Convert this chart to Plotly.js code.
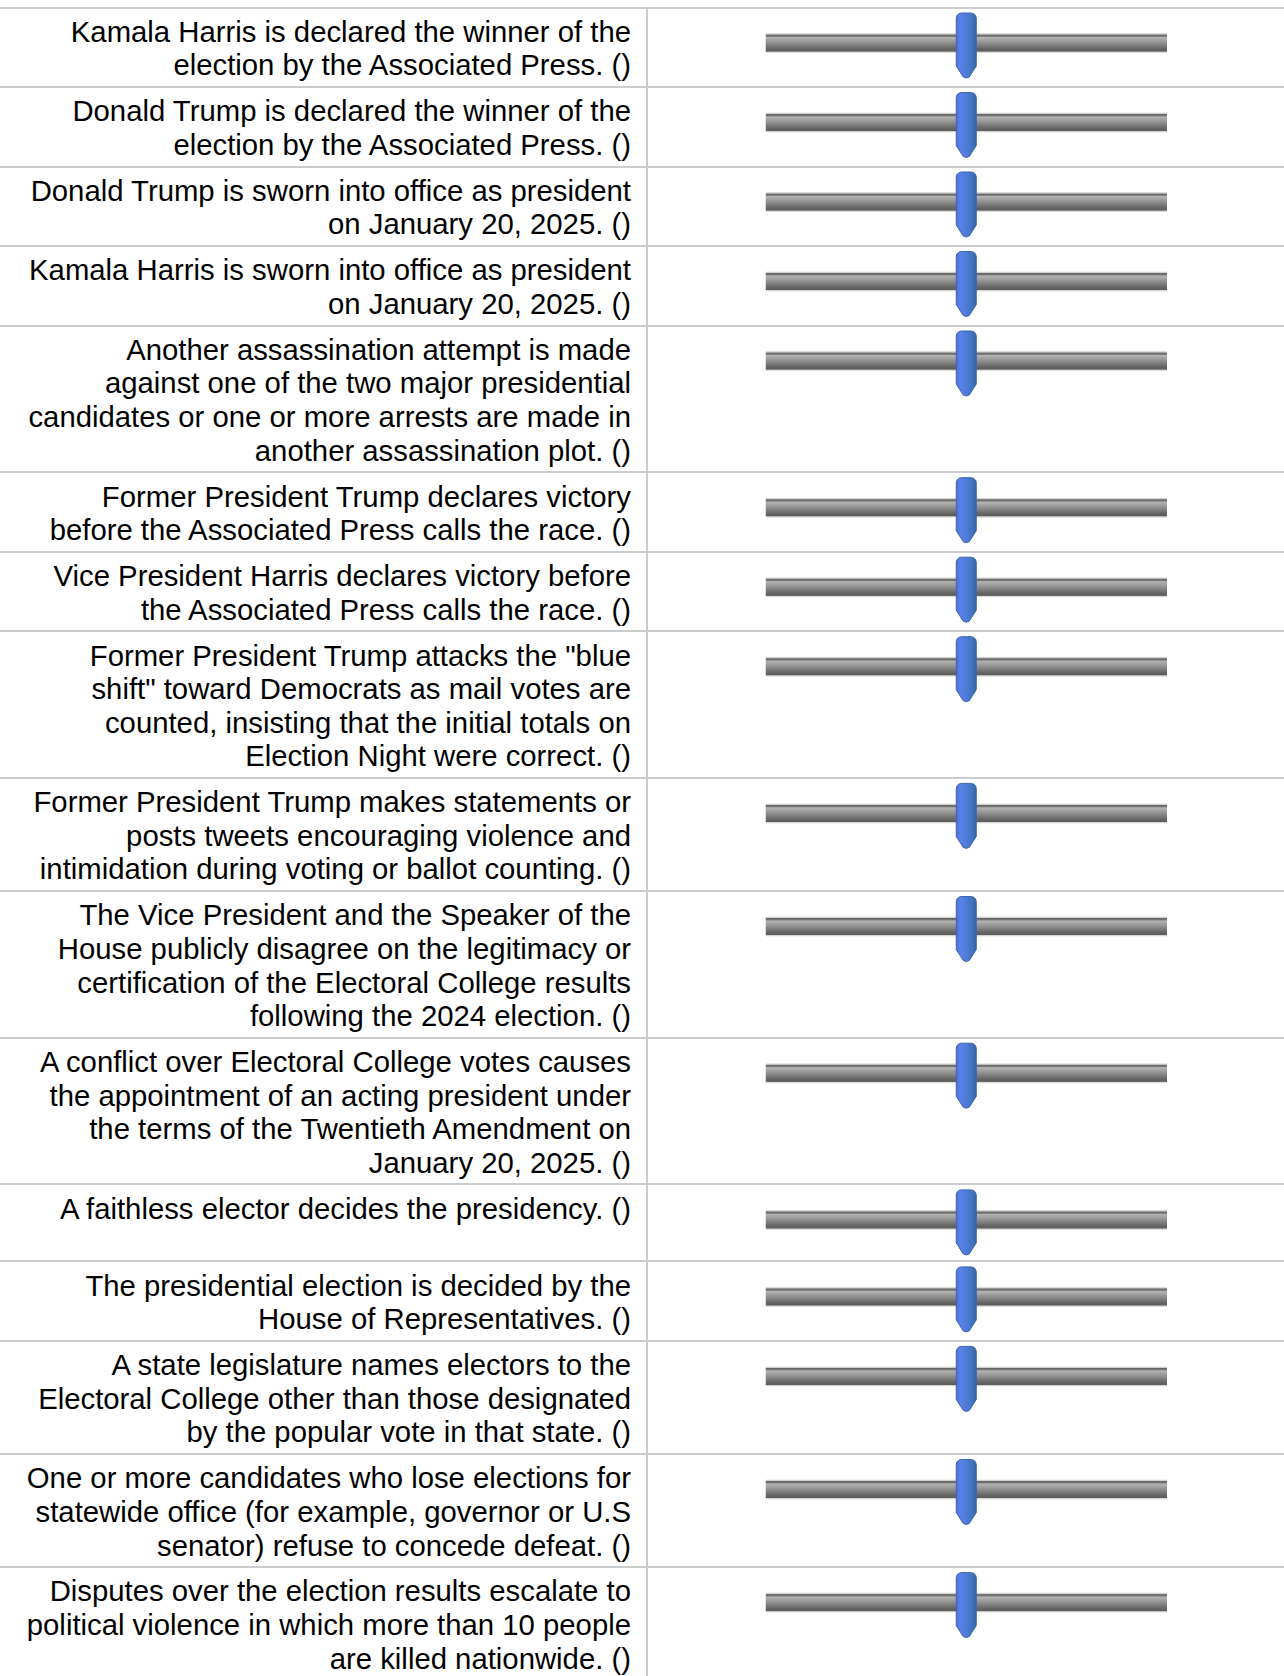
<!DOCTYPE html>
<html>
<head>
<meta charset="utf-8">
<script src="https://cdn.plot.ly/plotly-3.0.1.min.js"></script>
<style>
  html, body { margin: 0; padding: 0; background: #ffffff; }
  #chart { width: 1284px; height: 1676px; }
</style>
</head>
<body>
<div id="chart"></div>
<script>
// ---- data ----
const statements = [
  "Kamala Harris is declared the winner of the<br>election by the Associated Press. ()",
  "Donald Trump is declared the winner of the<br>election by the Associated Press. ()",
  "Donald Trump is sworn into office as president<br>on January 20, 2025. ()",
  "Kamala Harris is sworn into office as president<br>on January 20, 2025. ()",
  "Another assassination attempt is made<br>against one of the two major presidential<br>candidates or one or more arrests are made in<br>another assassination plot. ()",
  "Former President Trump declares victory<br>before the Associated Press calls the race. ()",
  "Vice President Harris declares victory before<br>the Associated Press calls the race. ()",
  "Former President Trump attacks the \"blue<br>shift\" toward Democrats as mail votes are<br>counted, insisting that the initial totals on<br>Election Night were correct. ()",
  "Former President Trump makes statements or<br>posts tweets encouraging violence and<br>intimidation during voting or ballot counting. ()",
  "The Vice President and the Speaker of the<br>House publicly disagree on the legitimacy or<br>certification of the Electoral College results<br>following the 2024 election. ()",
  "A conflict over Electoral College votes causes<br>the appointment of an acting president under<br>the terms of the Twentieth Amendment on<br>January 20, 2025. ()",
  "A faithless elector decides the presidency. ()",
  "The presidential election is decided by the<br>House of Representatives. ()",
  "A state legislature names electors to the<br>Electoral College other than those designated<br>by the popular vote in that state. ()",
  "One or more candidates who lose elections for<br>statewide office (for example, governor or U.S<br>senator) refuse to concede defeat. ()",
  "Disputes over the election results escalate to<br>political violence in which more than 10 people<br>are killed nationwide. ()"
];
const sliderValues = [50, 50, 50, 50, 50, 50, 50, 50, 50, 50, 50, 50, 50, 50, 50, 50];
const sliderMin = 0;
const sliderMax = 100;

// ---- layout constants (pixels) ----
const W = 1284, H = 1676;
const TABLE_TOP = 7.5;
const LINE_H = 33.6, ROW_PAD = 12.3, ROW_MIN = 77;
const TEXT_RIGHT = 631, TEXT_FIRST = 27;
const DIVIDER_X = 647;
const TRACK_L = 765.5, TRACK_R = 1167;
const TRACK_TOP = 25.5, TRACK_BOT = 45.5;
const THUMB_TOP = 5.5;
// thumb outline, pixel offsets from (centre, top)
const thumbPath = [
  [-10, 5], [-9.3, 2.5], [-7.5, 0.7], [-5, 0], [5, 0], [7.5, 0.7], [9.3, 2.5], [10, 5],
  [10, 53], [3, 64], [0, 65], [-3, 64], [-10, 53], [-10, 5]
];

const lines = statements.map(s => s.split('<br>'));
const tops = [];
let acc = TABLE_TOP;
lines.forEach(l => { tops.push(acc); acc += Math.max(l.length * LINE_H + ROW_PAD, ROW_MIN); });
const bounds = tops.concat([acc]);

const unitPerPx = (sliderMax - sliderMin) / (TRACK_R - TRACK_L);
const traces = [];

// tracks
tops.forEach(t => {
  traces.push({
    type: 'scatter', mode: 'lines', xaxis: 'x', yaxis: 'y',
    x: [sliderMin, sliderMax, sliderMax, sliderMin, sliderMin],
    y: [t + TRACK_TOP, t + TRACK_TOP, t + TRACK_BOT, t + TRACK_BOT, t + TRACK_TOP],
    fill: 'toself', line: { width: 0, color: 'rgba(0,0,0,0)' },
    fillgradient: {
      type: 'vertical',
      colorscale: [
        [0, '#e6e6e6'], [0.05, '#d4d4d4'], [0.09, '#5c5c5c'], [0.22, '#676767'],
        [0.5, '#8f8f8f'], [0.78, '#b4b4b4'], [0.83, '#777777'], [0.9, '#686868'],
        [0.94, '#cccccc'], [1, '#e8e8e8']
      ]
    },
    hoverinfo: 'skip', showlegend: false
  });
});

// thumbs
sliderValues.forEach((v, i) => {
  const t = tops[i];
  traces.push({
    type: 'scatter', mode: 'lines', xaxis: 'x', yaxis: 'y',
    x: thumbPath.map(p => v + p[0] * unitPerPx),
    y: thumbPath.map(p => t + THUMB_TOP + p[1]),
    fill: 'toself', line: { width: 1, color: '#3d64ad' },
    fillgradient: {
      type: 'horizontal',
      colorscale: [
        [0, '#4a6fd8'], [0.2, '#5b82ea'], [0.5, '#4f7bd8'], [0.8, '#4274bd'], [1, '#35639f']
      ]
    },
    hoverinfo: 'skip', showlegend: false
  });
});

// statement text, one point per wrapped line
const tx = [], ty = [], tt = [];
lines.forEach((l, i) => {
  l.forEach((s, j) => { tx.push(TEXT_RIGHT); ty.push(tops[i] + TEXT_FIRST + j * LINE_H); tt.push(s); });
});
traces.push({
  type: 'scatter', mode: 'text', xaxis: 'x2', yaxis: 'y',
  x: tx, y: ty, text: tt, textposition: 'middle left',
  textfont: { family: 'Liberation Sans, Arial, sans-serif', size: 29.3, color: '#000000' },
  cliponaxis: false, hoverinfo: 'skip', showlegend: false
});

const layout = {
  width: W, height: H,
  margin: { l: 0, r: 0, t: 0, b: 0, pad: 0 },
  paper_bgcolor: '#ffffff', plot_bgcolor: 'rgba(0,0,0,0)',
  showlegend: false,
  xaxis: { domain: [TRACK_L / W, TRACK_R / W], range: [sliderMin, sliderMax], visible: false, fixedrange: true },
  xaxis2: { domain: [0, 1], range: [0, W], visible: false, anchor: 'y', fixedrange: true },
  yaxis: {
    domain: [0, 1], range: [H, 0], showticklabels: false, ticks: '',
    tickmode: 'array', tickvals: bounds, showgrid: true, gridcolor: '#cccccc', gridwidth: 2,
    zeroline: false, showline: false, fixedrange: true
  },
  shapes: [{
    type: 'line', xref: 'paper', yref: 'y', x0: DIVIDER_X / W, x1: DIVIDER_X / W,
    y0: TABLE_TOP, y1: H, line: { color: '#cccccc', width: 2 }, layer: 'below'
  }]
};

Plotly.newPlot('chart', traces, layout, { staticPlot: true, displayModeBar: false });
</script>
</body>
</html>
